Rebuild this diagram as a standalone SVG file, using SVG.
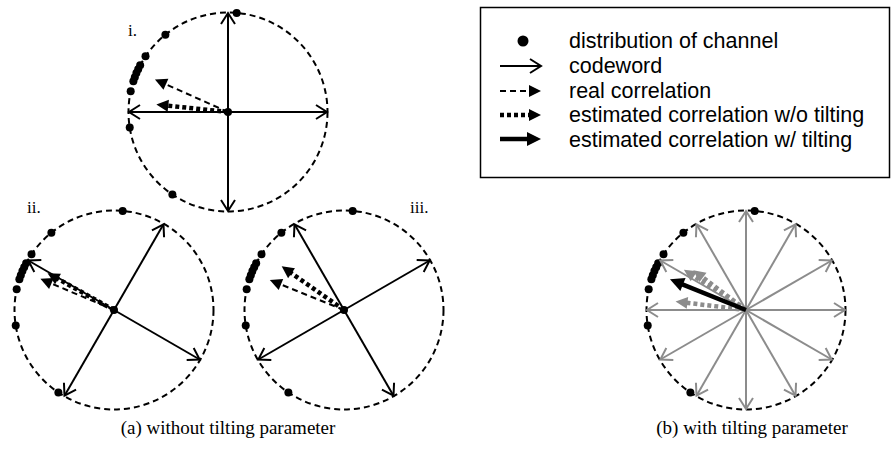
<svg xmlns="http://www.w3.org/2000/svg" xmlns:xlink="http://www.w3.org/1999/xlink" width="896" height="468" viewBox="0 0 896 468">
<style>
.ring{fill:none;stroke:#000;stroke-width:2;stroke-dasharray:6 4}
.cw{stroke:#000;stroke-width:2;fill:none;marker-end:url(#open)}
.cwg{stroke:#8c8c8c;stroke-width:2;fill:none;marker-end:url(#openg)}
.real{stroke:#000;stroke-width:2;stroke-dasharray:6 4;fill:none;marker-end:url(#tri)}
.est{stroke:#000;stroke-width:4.5;stroke-dasharray:4 3;fill:none;marker-end:url(#tri)}
.estg{stroke:#8c8c8c;stroke-width:4.5;stroke-dasharray:4 3;fill:none;marker-end:url(#trig)}
.tilt{stroke:#000;stroke-width:4.5;fill:none;marker-end:url(#trib)}
.lg{font-family:"Liberation Sans",Arial,sans-serif;font-size:21.5px;fill:#000}
.rn{font-family:"Liberation Serif","Times New Roman",serif;font-size:17px;fill:#000}
.cap{font-family:"Liberation Serif","Times New Roman",serif;font-size:19px;fill:#000;text-anchor:middle}
</style>
<defs>
<marker id="open" markerUnits="userSpaceOnUse" viewBox="-13 -8 15 16" refX="0" refY="0" markerWidth="15" markerHeight="16" orient="auto" overflow="visible"><path d="M-11,-7 L0,0 L-11,7" fill="none" stroke="#000" stroke-width="2"/></marker>
<marker id="openg" markerUnits="userSpaceOnUse" viewBox="-13 -8 15 16" refX="0" refY="0" markerWidth="15" markerHeight="16" orient="auto" overflow="visible"><path d="M-11,-7 L0,0 L-11,7" fill="none" stroke="#8c8c8c" stroke-width="2"/></marker>
<marker id="tri" markerUnits="userSpaceOnUse" viewBox="-3 -7 16 14" refX="0" refY="0" markerWidth="16" markerHeight="14" orient="auto" overflow="visible"><path d="M-2,-6 L10,0 L-2,6Z" fill="#000"/></marker>
<marker id="trig" markerUnits="userSpaceOnUse" viewBox="-3 -7 16 14" refX="0" refY="0" markerWidth="16" markerHeight="14" orient="auto" overflow="visible"><path d="M-2,-6 L10,0 L-2,6Z" fill="#8c8c8c"/></marker>
<marker id="trib" markerUnits="userSpaceOnUse" viewBox="-3 -8 18 16" refX="0" refY="0" markerWidth="18" markerHeight="16" orient="auto" overflow="visible"><path d="M-2,-7 L12,0 L-2,7Z" fill="#000"/></marker>
<g id="ringdots">
<circle class="ring" cx="0" cy="0" r="99.5"/>
<g fill="#000">
<circle cx="8.67" cy="-99.12" r="4"/>
<circle cx="-62.62" cy="-77.32" r="4"/>
<circle cx="-82.49" cy="-55.64" r="4"/>
<circle cx="-87.85" cy="-46.71" r="4"/>
<circle cx="-89.81" cy="-42.83" r="4"/>
<circle cx="-91.59" cy="-38.88" r="4"/>
<circle cx="-93.20" cy="-34.85" r="4"/>
<circle cx="-94.63" cy="-30.75" r="4"/>
<circle cx="-97.32" cy="-20.69" r="4"/>
<circle cx="-98.27" cy="15.56" r="4"/>
<circle cx="-55.64" cy="82.49" r="4"/>
</g>
</g>
</defs>
<rect width="896" height="468" fill="#fff"/>

<g id="panel-i">
<use xlink:href="#ringdots" href="#ringdots" x="228" y="112"/>
<text class="rn" x="128" y="36">i.</text>
</g>
<g id="panel-ii">
<use xlink:href="#ringdots" href="#ringdots" x="114" y="310"/>
<text class="rn" x="27" y="213">ii.</text>
</g>
<g id="panel-iii">
<use xlink:href="#ringdots" href="#ringdots" x="344" y="310"/>
<text class="rn" x="410" y="213">iii.</text>
</g>
<g id="panel-b">
<use xlink:href="#ringdots" href="#ringdots" x="746" y="310"/>
</g>

<g id="connectors">
<g id="codewords-i">
<line class="cw" x1="228" y1="112" x2="228" y2="13"/>
<line class="cw" x1="228" y1="112" x2="228" y2="211"/>
<line class="cw" x1="228" y1="112" x2="129" y2="112"/>
<line class="cw" x1="228" y1="112" x2="327" y2="112"/>
</g>
<g id="codewords-ii">
<line class="cw" x1="114" y1="310" x2="163.5" y2="224.3"/>
<line class="cw" x1="114" y1="310" x2="28.3" y2="260.5"/>
<line class="cw" x1="114" y1="310" x2="64.5" y2="395.7"/>
<line class="cw" x1="114" y1="310" x2="199.7" y2="359.5"/>
</g>
<g id="codewords-iii">
<line class="cw" x1="344" y1="310" x2="429.7" y2="260.5"/>
<line class="cw" x1="344" y1="310" x2="294.5" y2="224.3"/>
<line class="cw" x1="344" y1="310" x2="258.3" y2="359.5"/>
<line class="cw" x1="344" y1="310" x2="393.5" y2="395.7"/>
</g>
<g id="codewords-b">
<line class="cwg" x1="746" y1="310" x2="845" y2="310"/>
<line class="cwg" x1="746" y1="310" x2="831.7" y2="260.5"/>
<line class="cwg" x1="746" y1="310" x2="795.5" y2="224.3"/>
<line class="cwg" x1="746" y1="310" x2="746" y2="211"/>
<line class="cwg" x1="746" y1="310" x2="696.5" y2="224.3"/>
<line class="cwg" x1="746" y1="310" x2="660.3" y2="260.5"/>
<line class="cwg" x1="746" y1="310" x2="647" y2="310"/>
<line class="cwg" x1="746" y1="310" x2="660.3" y2="359.5"/>
<line class="cwg" x1="746" y1="310" x2="696.5" y2="395.7"/>
<line class="cwg" x1="746" y1="310" x2="746" y2="409"/>
<line class="cwg" x1="746" y1="310" x2="795.5" y2="395.7"/>
<line class="cwg" x1="746" y1="310" x2="831.7" y2="359.5"/>
</g>
<g id="correlations">
<line class="real" x1="228" y1="112" x2="164.1" y2="83.5"/>
<line class="est" x1="228" y1="112" x2="166.3" y2="105.5"/>
<line class="real" x1="114" y1="310" x2="49.6" y2="282.7"/>
<line class="est" x1="114" y1="310" x2="56.3" y2="278"/>
<line class="real" x1="344" y1="310" x2="279.1" y2="283.8"/>
<line class="est" x1="344" y1="310" x2="289.9" y2="272.1"/>
<line class="estg" x1="746" y1="310" x2="692.3" y2="275.1"/>
<line class="estg" x1="746" y1="310" x2="701.3" y2="276.3"/>
<line class="estg" x1="746" y1="310" x2="685.5" y2="302.6"/>
<line class="tilt" x1="746" y1="310" x2="681.1" y2="283.8"/>
</g>
</g>
<g fill="#000">
<circle cx="228" cy="112" r="4"/>
<circle cx="114" cy="310" r="4"/>
<circle cx="344" cy="310" r="4"/>
</g>

<g id="legend">
<rect x="480.5" y="7.5" width="409" height="170" fill="none" stroke="#000" stroke-width="1.5"/>
<circle cx="523" cy="41" r="5.5" fill="#000"/>
<line class="cw" x1="500" y1="66" x2="541" y2="66"/>
<line class="real" x1="500" y1="91" x2="531" y2="91"/>
<line class="est" x1="500" y1="115" x2="531" y2="115"/>
<line class="tilt" x1="500" y1="139" x2="529" y2="139"/>
<text class="lg" x="569" y="48">distribution of channel</text>
<text class="lg" x="569" y="73">codeword</text>
<text class="lg" x="569" y="98">real correlation</text>
<text class="lg" x="569" y="122">estimated correlation w/o tilting</text>
<text class="lg" x="569" y="147">estimated correlation w/ tilting</text>
</g>

<g id="captions">
<text class="cap" x="228" y="434">(a) without tilting parameter</text>
<text class="cap" x="752" y="434">(b) with tilting parameter</text>
</g>
</svg>
